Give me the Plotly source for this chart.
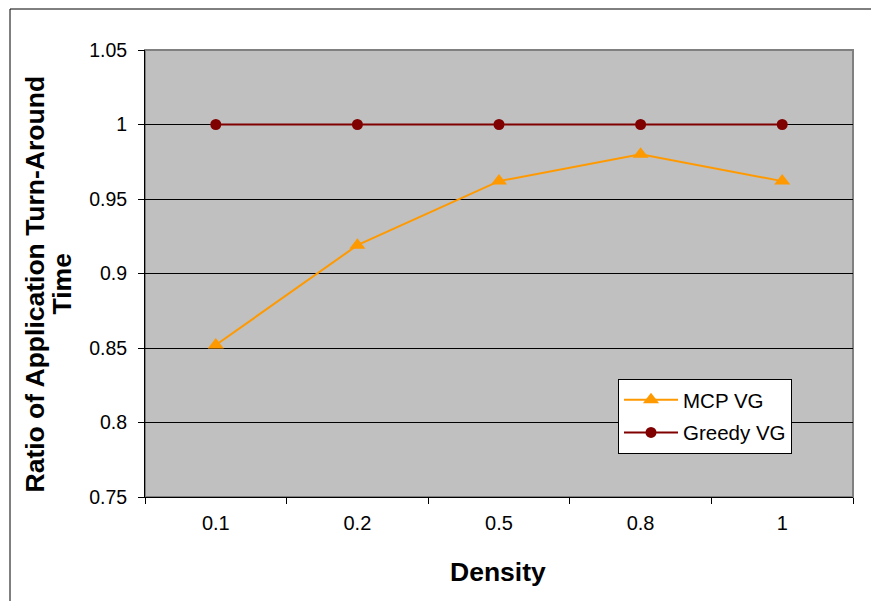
import plotly.graph_objects as go

categories = ["0.1", "0.2", "0.5", "0.8", "1"]
mcp_vg = [0.852, 0.919, 0.962, 0.980, 0.962]
greedy_vg = [1.0, 1.0, 1.0, 1.0, 1.0]
y_ticks = [0.75, 0.8, 0.85, 0.9, 0.95, 1.0, 1.05]
y_ticktext = ["0.75", "0.8", "0.85", "0.9", "0.95", "1", "1.05"]

FONT = "Liberation Sans, Arial, sans-serif"

L, R, T, B = 145, 853, 50, 497
PW, PH = R - L, B - T


def px(x):
    return (x - L) / PW


def py(y):
    return (B - y) / PH


fig = go.Figure()
fig.add_trace(go.Scatter(
    x=categories, y=mcp_vg, name="MCP VG", mode="lines+markers",
    legendgroup="a",
    line=dict(color="#FF9900", width=2),
    marker=dict(symbol="triangle-up", size=14, color="#FF9900"),
))
fig.add_trace(go.Scatter(
    x=categories, y=greedy_vg, name="Greedy VG", mode="lines+markers",
    legendgroup="b",
    line=dict(color="#800000", width=2),
    marker=dict(symbol="circle", size=11, color="#800000"),
))

fig.update_layout(
    width=871, height=601,
    margin=dict(l=L, r=871 - R, t=T, b=601 - B),
    paper_bgcolor="white",
    plot_bgcolor="#C0C0C0",
    font=dict(family=FONT, size=19.5, color="black"),
    showlegend=True,
    legend=dict(
        x=px(618), y=py(379),
        xanchor="left", yanchor="top",
        bgcolor="white", bordercolor="black", borderwidth=1,
        font=dict(family=FONT, size=20.5, color="black"),
        itemwidth=54, tracegroupgap=3,
    ),
    xaxis=dict(
        type="category", tickson="boundaries", range=[-0.5, 4.5],
        ticks="outside", ticklen=6, tickcolor="black",
        showline=True, linecolor="black", linewidth=1,
        showgrid=False, zeroline=False,
        tickfont=dict(family=FONT, size=20),
        ticklabelstandoff=8,
    ),
    yaxis=dict(
        range=[0.75, 1.05], tickvals=y_ticks, ticktext=y_ticktext,
        ticks="outside", ticklen=6, tickcolor="black",
        showline=True, linecolor="black", linewidth=1,
        showgrid=True, gridcolor="black", gridwidth=1, zeroline=False,
        tickfont=dict(family=FONT, size=19.5),
        ticklabelstandoff=7,
    ),
    shapes=[
        dict(type="rect", xref="paper", yref="paper", x0=0, x1=1, y0=0, y1=1,
             line=dict(color="#808080", width=2), layer="below"),
        dict(type="rect", xref="paper", yref="paper",
             x0=px(10), x1=1.2, y0=-0.5, y1=py(9),
             line=dict(color="black", width=1), layer="below"),
    ],
    annotations=[
        dict(text="<b>Ratio of Application Turn-Around</b>",
             xref="paper", yref="paper", x=px(34), y=py(284.5),
             xanchor="center", yanchor="middle", textangle=-90, showarrow=False,
             font=dict(family=FONT, size=26.5, color="black")),
        dict(text="<b>Time</b>",
             xref="paper", yref="paper", x=px(61), y=py(284.5),
             xanchor="center", yanchor="middle", textangle=-90, showarrow=False,
             font=dict(family=FONT, size=26.5, color="black")),
        dict(text="<b>Density</b>",
             xref="paper", yref="paper", x=px(498), y=py(572),
             xanchor="center", yanchor="middle", showarrow=False,
             font=dict(family=FONT, size=26.5, color="black")),
    ],
)

fig.write_html("out.html")
